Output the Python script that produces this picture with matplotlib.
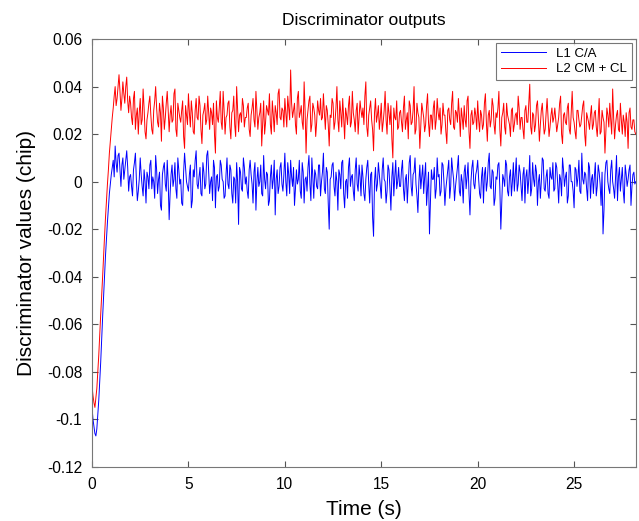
#!/usr/bin/env python3

'''
Discriminator outputs: L1 C/A vs L2 CM + CL
values read off the reference picture, in milli-chip
two sample sets: on the 0.1 s grid and half way between
'''

import numpy as np
import matplotlib
matplotlib.use('Agg')
import matplotlib.pyplot as plt

plt.rcParams['font.family'] = ['Liberation Sans', 'DejaVu Sans']
plt.rcParams['axes.unicode_minus'] = False

#==================================================================
# data (milli-chip), samples at 0.0, 0.1, 0.2 ... s
l1_ca = [
    -95, -103, -107, -98, -84, -66, -48, -31, -17, -5, 3, 9, 15, 4, 12, -2, 10, 5, 13, -4,
    3, -6, 8, 1, -4, 10, -2, 5, -9, 2, 7, -3, 0, 11, -5, 4, -12, 6, -1, 9,
    -16, 3, -2, 8, -7, 5, 1, -10, 12, 0, -4, 7, -8, 2, 13, -3, 6, -6, 4, -1,
    13, -5, 2, 9, -11, 3, -2, 7, 0, -6, 10, -3, 5, -9, 1, 8, -18, 4, -4, 6,
    2, -7, 9, -1, 4, -12, 6, 0, -5, 11, -3, 3, -8, 7, 1, -14, 5, -2, 8, -4,
    12, -6, 3, 9, -2, -10, 5, 1, -4, 8, -9, 2, 6, -1, 10, -7, 3, -3, 7, 0,
    12, -5, 4, -20, 2, 8, -6, 0, 5, -3, 9, -11, 1, 6, -2, 3, -8, 10, -4, 2,
    7, -5, 1, 9, -9, 4, -23, 6, -1, 3, -7, 10, 0, -4, 5, -12, 8, 2, -3, 6,
    -2, 9, -8, 3, 0, 11, -6, 4, -1, -13, 7, 2, -5, 8, -3, -22, 5, 1, -7, 10,
    3, -4, 7, -10, 1, 9, -2, 5, -8, 2, 11, -6, 0, 4, -3, 8, -14, 6, -1, 3,
    9, -5, 2, -9, 6, 0, 12, -3, 4, -7, 1, 8, -20, 3, -2, 7, -6, 5, 0, -4,
    10, -1, 4, -8, 6, 2, -5, 11, -3, 1, 7, -10, 3, 0, 9, -4, 5, -7, 2, 8,
    -3, 6, -9, 1, 10, -2, 4, -6, 7, 0, -11, 5, 2, -4, 12, -1, 3, -8, 6, 1,
    -5, 8, -2, 4, -10, -22, 3, 9, -3, 5, 0, -7, 11, 2, -4, 6, -9, 3, 1, 7, -2, 4, 0,
]

l2_cmcl = [
    -86, -93, -91, -80, -64, -48, -31, -15, -1, 12, 22, 31, 40, 35, 45, 30, 42, 33, 44, 29,
    33, 24, 38, 28, 20, 35, 26, 31, 18, 29, 36, 22, 30, 40, 25, 33, 17, 31, 27, 38,
    21, 32, 26, 39, 19, 30, 25, 34, 14, 28, 37, 23, 29, 20, 35, 26, 32, 16, 30, 24,
    36, 22, 29, 33, 12, 27, 31, 25, 38, 20, 28, 34, 18, 30, 24, 40, 21, 29, 35, 23,
    27, 33, 19, 31, 26, 38, 22, 29, 15, 34, 25, 30, 37, 20, 28, 32, 24, 39, 26, 30,
    35, 23, 31, 47, 27, 33, 20, 38, 29, 25, 42, 12, 30, 36, 24, 31, 19, 34, 28, 26,
    37, 22, 30, 15, 27, 33, 25, 40, 21, 29, 35, 18, 28, 32, 23, 38, 26, 30, 20, 34,
    27, 24, 42, 19, 31, 26, 13, 35, 28, 22, 33, 25, 38, 20, 29, 32, 10, 27, 34, 23,
    30, 21, 36, 26, 18, 32, 25, 40, 22, 29, 14, 33, 27, 24, 37, 19, 28, 31, 22, 35,
    26, 20, 33, 28, 16, 31, 24, 38, 22, 29, 35, 19, 27, 32, 23, 36, 14, 30, 25, 28,
    34, 21, 28, 24, 37, 17, 30, 26, 32, 20, 27, 38, 15, 29, 23, 33, 26, 19, 31, 24,
    29, 36, 22, 27, 18, 32, 25, 41, 20, 28, 24, 34, 17, 30, 26, 22, 35, 19, 28, 25,
    31, 21, 27, 36, 16, 29, 24, 33, 20, 38, 25, 18, 30, 23, 28, 34, 15, 27, 22, 32,
    24, 30, 19, 35, 21, 27, 12, 31, 23, 26, 39, 18, 28, 22, 33, 20, 25, 29, 14, 31, 22, 26, 20,
]

# samples at 0.05, 0.15, 0.25 ... s
l1_ca_mid = [
    -100, -106, -104, -92, -76, -57, -40, -24, -11, -1, 6, 2, 8, 11, 5, 7, 1, 9, 6, 2,
    -2, 5, 12, -8, 1, 3, -6, 0, 4, -3, 9, 2, -7, 5, 1, -10, 3, 8, -4, 0,
    -5, 7, 1, -3, 10, -1, -9, 4, 6, -2, 3, -11, 5, 9, -1, 2, -5, 8, -3, 11,
    4, 0, -8, 6, 2, -4, 9, 1, -7, 3, -1, 7, -5, 2, -9, 0, 6, -3, 10, -1,
    -4, 5, 3, -9, 8, 0, -2, 7, -6, 1, 4, -10, 2, -3, 9, 1, -5, 6, -1, 3,
    0, 8, -5, 2, 6, -3, -1, 9, -7, 4, 1, -4, 11, -8, 2, 5, -2, 7, -6, 4,
    -3, 6, -9, 1, 7, -2, 4, -12, 3, 8, -5, 0, -7, 10, 2, -4, 5, -1, 7, -6,
    2, -8, 6, -1, 3, -15, 0, -4, 8, -2, 5, 1, -9, 7, -3, 2, -6, 9, 0, -2,
    5, -3, 1, -9, 8, -2, 3, 10, -6, 0, -3, 7, 2, -10, 4, -8, 1, 6, -3, 2,
    -6, 8, 0, -3, 5, -7, 10, 1, -2, 6, -4, 3, -9, 7, 2, -5, 0, 9, -3, 5,
    1, -7, 6, 3, -4, 8, -2, 5, -10, 2, 7, -3, -8, 1, 9, -4, 2, -6, 8, 3,
    -4, 7, -2, 3, -9, 5, 1, -6, 8, -2, 4, 0, -7, 10, -3, 2, -5, 6, 1, -4,
    8, -1, 3, -6, 5, 2, -9, 7, 0, -4, 6, -2, 9, -5, 1, 4, -3, 8, -7, 3,
    2, -6, 7, -1, 4, -12, 8, 0, -5, 9, -3, 2, -8, 6, 1, -4, 7, -2, 5, -10, 3, -1,
]

l2_cmcl_mid = [
    -90, -95, -87, -73, -56, -40, -23, -8, 5, 17, 27, 36, 32, 40, 38, 35, 37, 40, 34, 36,
    27, 35, 22, 31, 29, 24, 39, 21, 26, 33, 28, 20, 34, 31, 23, 29, 36, 22, 33, 30,
    28, 25, 37, 22, 33, 27, 30, 19, 32, 24, 29, 34, 21, 30, 27, 36, 22, 28, 33, 26,
    29, 31, 24, 20, 34, 25, 38, 22, 30, 27, 33, 23, 29, 36, 19, 31, 28, 25, 32, 27,
    31, 22, 28, 35, 23, 30, 27, 33, 25, 20, 32, 28, 24, 34, 21, 29, 37, 27, 31, 23,
    29, 36, 26, 33, 30, 24, 35, 27, 32, 22, 30, 26, 34, 21, 33, 28, 25, 30, 35, 27,
    29, 32, 24, 28, 35, 22, 31, 26, 34, 23, 27, 31, 24, 36, 25, 29, 21, 33, 27, 30,
    31, 36, 23, 28, 34, 22, 29, 25, 32, 27, 21, 30, 26, 33, 24, 18, 31, 26, 22, 29,
    25, 31, 22, 29, 34, 24, 30, 20, 33, 27, 23, 30, 21, 32, 25, 28, 22, 34, 26, 29,
    31, 24, 28, 21, 30, 26, 33, 23, 30, 25, 28, 31, 22, 26, 34, 21, 28, 24, 31, 22,
    26, 30, 22, 33, 25, 28, 23, 35, 24, 29, 31, 22, 27, 33, 20, 28, 24, 30, 21, 28,
    24, 31, 27, 22, 30, 25, 33, 23, 29, 21, 32, 26, 24, 33, 20, 29, 27, 23, 31, 27,
    26, 24, 33, 20, 28, 25, 31, 22, 29, 27, 21, 30, 26, 24, 32, 20, 29, 25, 28, 22,
    29, 23, 27, 20, 30, 25, 22, 28, 33, 20, 27, 24, 30, 21, 26, 28, 19, 25, 29, 23, 26, 21,
]

dt = 0.1  # s between samples of one set
y_ticks = [0.06, 0.04, 0.02, 0, -0.02, -0.04, -0.06, -0.08, -0.1, -0.12]
y_labels = ['0.06', '0.04', '0.02', '0', '-0.02', '-0.04', '-0.06', '-0.08', '-0.1', '-0.12']
x_ticks = [0, 5, 10, 15, 20, 25]

#==================================================================
def merge(grid, mid):
    t = np.concatenate([np.arange(len(grid)) * dt, np.arange(len(mid)) * dt + dt / 2])
    v = np.concatenate([grid, mid]) / 1000.0
    order = np.argsort(t)
    return t[order], v[order]

#==================================================================
def real_main():
    t1, v1 = merge(l1_ca, l1_ca_mid)
    t2, v2 = merge(l2_cmcl, l2_cmcl_mid)

    fig = plt.figure(figsize=(6.39, 5.21), dpi=100)
    ax = fig.add_axes([0.144, 0.104, 0.851, 0.821])

    ax.plot(t1, v1, color='b', lw=0.7, label='L1 C/A')
    ax.plot(t2, v2, color='r', lw=0.7, label='L2 CM + CL')

    ax.set_xlim(0, t1[-1])
    ax.set_ylim(-0.12, 0.06)
    ax.set_xticks(x_ticks)
    ax.set_yticks(y_ticks)
    ax.set_yticklabels(y_labels)

    # matlab look
    ax.tick_params(direction='in', top=True, right=True, labelsize=11.2,
                   length=4, color='#555555', pad=7)
    for s in ax.spines.values():
        s.set_color('#777777')
        s.set_linewidth(0.8)

    ax.set_title('Discriminator outputs', fontsize=12.5, pad=10)
    ax.set_xlabel('Time (s)', fontsize=15, labelpad=6)
    ax.set_ylabel('Discriminator values (chip)', fontsize=15, labelpad=8)

    leg = ax.legend(loc='upper right', fontsize=9.5, frameon=True, fancybox=False,
                    borderaxespad=0.3, handlelength=3.4, borderpad=0.35,
                    labelspacing=0.25)
    leg.get_frame().set_edgecolor('#555555')
    leg.get_frame().set_linewidth(0.8)

    fig.savefig('out.png', dpi=100)


#==================================================================
if __name__ == "__main__":
    real_main()
